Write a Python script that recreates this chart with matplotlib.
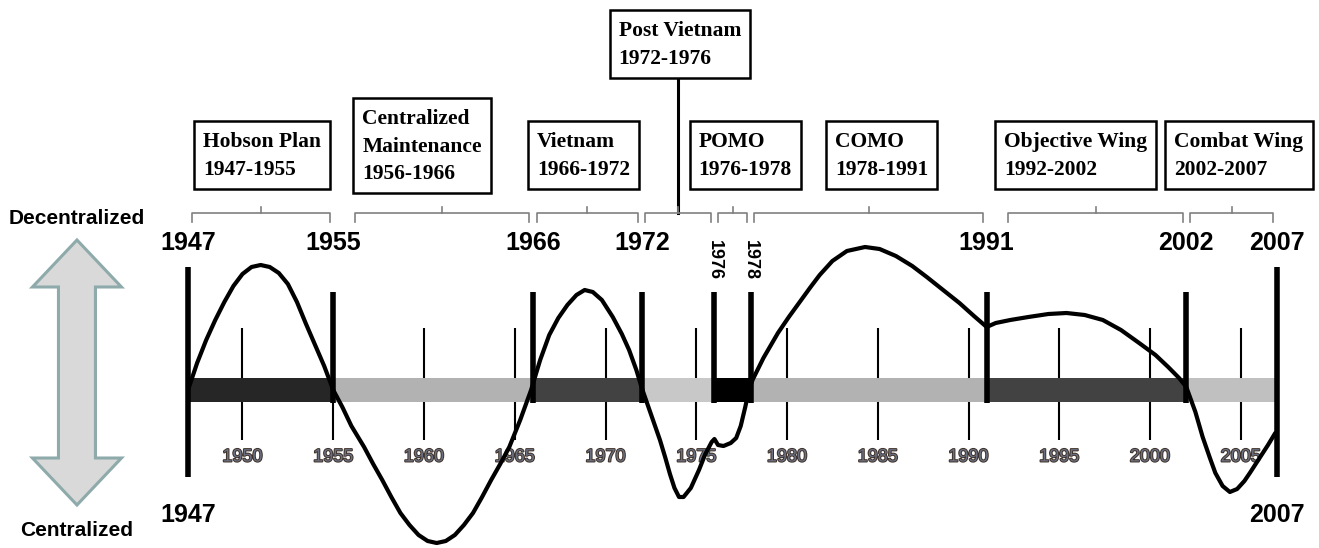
import numpy as np
import matplotlib
matplotlib.use("Agg")
import matplotlib.pyplot as plt
from matplotlib.patches import Polygon, Rectangle
import matplotlib.patheffects as pe

# ---- data ----
# thick markers at the boundaries between organisational eras
boundary_years = [1947, 1955, 1966, 1972, 1976, 1978, 1991, 2002, 2007]
top_label_years = [1947, 1955, 1966, 1972, 1991, 2002, 2007]
side_label_years = [1976, 1978]
bottom_label_years = [1947, 2007]
tick_years = [1950, 1955, 1960, 1965, 1970, 1975, 1980, 1985, 1990, 1995, 2000, 2005]

# shaded time bar segments
segment_starts = [1947, 1955, 1966, 1972, 1976, 1978, 1991, 2002]
segment_ends = [1955, 1966, 1972, 1976, 1978, 1991, 2002, 2007]

# named eras shown in the boxes
era_names = ["Hobson Plan", "Centralized\nMaintenance", "Vietnam", "Post Vietnam",
             "POMO", "COMO", "Objective Wing", "Combat Wing"]
era_starts = [1947, 1956, 1966, 1972, 1976, 1978, 1992, 2002]
era_ends = [1955, 1966, 1972, 1976, 1978, 1991, 2002, 2007]

# centralization curve (positive = decentralized, negative = centralized)
curve_years = [1947.0, 1947.5, 1948.0, 1948.5, 1949.0, 1949.5, 1950.0, 1950.5, 1951.0,
               1951.5, 1952.0, 1952.5, 1953.0, 1953.5, 1954.0, 1954.5, 1955.0,
               1955.5, 1956.0, 1956.7, 1957.2, 1957.7, 1958.2, 1958.7, 1959.2, 1959.7,
               1960.2, 1960.7, 1961.2, 1961.7, 1962.2, 1962.7, 1963.2, 1963.7, 1964.2,
               1964.7, 1965.3, 1965.9,
               1966.4, 1966.9, 1967.4, 1967.9, 1968.4, 1968.85, 1969.3, 1969.8, 1970.4,
               1970.9, 1971.3, 1971.7, 1972.0,
               1972.5, 1973.0, 1973.3, 1973.55, 1973.8, 1974.05, 1974.3, 1974.7, 1975.15,
               1975.5, 1975.85, 1976.0, 1976.2, 1976.5, 1976.9, 1977.2, 1977.45, 1977.7,
               1977.9, 1978.1,
               1978.7, 1979.5, 1980.1, 1980.7, 1981.3, 1981.8, 1982.5, 1983.3, 1984.3,
               1985.1, 1986.0, 1986.9, 1987.7, 1988.6, 1989.5, 1990.3, 1991.0,
               1991.5, 1992.3, 1993.3, 1994.4, 1995.4, 1996.4, 1997.4, 1998.4, 1999.4,
               2000.3, 2001.0, 2001.6, 2002.0,
               2002.5, 2002.9, 2003.3, 2003.6, 2004.0, 2004.4, 2004.8, 2005.2, 2005.5,
               2006.0, 2006.5, 2006.9]
curve_level = [0.00, 0.27, 0.50, 0.70, 0.88, 1.04, 1.16, 1.23, 1.25,
               1.23, 1.17, 1.06, 0.88, 0.66, 0.45, 0.24, 0.00,
               -0.17, -0.36, -0.57, -0.74, -0.90, -1.07, -1.23, -1.35, -1.45,
               -1.51, -1.53, -1.51, -1.45, -1.35, -1.23, -1.07, -0.90, -0.74,
               -0.57, -0.30, 0.00,
               0.30, 0.55, 0.72, 0.85, 0.95, 1.00, 0.98, 0.90, 0.73,
               0.56, 0.40, 0.20, 0.02,
               -0.24, -0.50, -0.68, -0.84, -0.98, -1.07, -1.07, -0.98, -0.80,
               -0.64, -0.52, -0.49, -0.55, -0.56, -0.53, -0.48, -0.36, -0.17,
               0.00, 0.10,
               0.32, 0.57, 0.73, 0.88, 1.03, 1.15, 1.29, 1.39, 1.43,
               1.41, 1.34, 1.24, 1.13, 1.00, 0.87, 0.74, 0.63,
               0.67, 0.70, 0.73, 0.76, 0.77, 0.75, 0.70, 0.60, 0.47,
               0.35, 0.23, 0.12, 0.03,
               -0.22, -0.47, -0.68, -0.83, -0.96, -1.02, -0.99, -0.91, -0.83,
               -0.69, -0.55, -0.43]

# ---- styling / layout ----
segment_colors = ["#262626", "#b2b2b2", "#424242", "#c8c8c8", "#000000",
                  "#b2b2b2", "#424242", "#c0c0c0"]
box_x = [1951.1, 1959.9, 1968.8, 1974.1, 1977.7, 1985.2, 1995.9, 2004.9]
box_y = [2.34, 2.43, 2.34, 3.45, 2.34, 2.34, 2.34, 2.34]

serif = "Liberation Serif"
sans = "Liberation Sans"

fig = plt.figure(figsize=(13.19, 5.48), dpi=100)
ax = fig.add_axes([0, 0, 1, 1])
ax.set_xlim(1936.64, 2009.31)
ax.set_ylim(-1.58, 3.90)
ax.axis("off")

# thin year ticks behind the bar
ax.vlines(tick_years, -0.50, 0.62, color="black", lw=1.5, zorder=1)
for yr in tick_years:
    ax.text(yr, -0.67, str(yr), ha="center", va="center", fontsize=13,
            family=sans, color="#6a7080",
            path_effects=[pe.withStroke(linewidth=1.4, foreground="#3e3028")])

# time bar
for s, e, c in zip(segment_starts, segment_ends, segment_colors):
    ax.barh(0, e - s, left=s, height=0.24, color=c, zorder=2)

# thick boundary markers
for yr in boundary_years:
    if yr in (1947, 2007):
        ax.vlines(yr, -0.87, 1.23, color="black", lw=4, zorder=3)
    else:
        ax.vlines(yr, -0.13, 0.98, color="black", lw=4, zorder=3)

# the centralization curve
ax.plot(curve_years, curve_level, color="black", lw=3, zorder=4,
        solid_joinstyle="round", solid_capstyle="round")

# boundary year labels
for yr in top_label_years:
    ax.text(yr, 1.47, str(yr), ha="center", va="center", fontsize=18,
            family=sans, weight="bold")
for yr in side_label_years:
    ax.text(yr, 1.30, str(yr), ha="center", va="center", fontsize=13,
            family=sans, weight="bold", rotation=270)
for yr in bottom_label_years:
    ax.text(yr, -1.25, str(yr), ha="center", va="center", fontsize=18,
            family=sans, weight="bold")

# brackets under each era box
for s, e in zip(era_starts, era_ends):
    s2, e2 = s + 0.2, e - 0.2
    m = (s + e) / 2
    ax.plot([s2, s2, e2, e2], [1.68, 1.77, 1.77, 1.68], color="#808080", lw=1.2)
    ax.plot([m, m], [1.77, 1.83], color="#808080", lw=1.2)

# stem for the raised Post Vietnam box
pv = era_names.index("Post Vietnam")
ax.plot([(era_starts[pv] + era_ends[pv]) / 2] * 2, [1.77, 3.2], color="black", lw=2.2, zorder=1)

# era boxes: text first, then a frame sized from the text extent
box_texts = []
for name, s, e, bx, by in zip(era_names, era_starts, era_ends, box_x, box_y):
    t = ax.text(bx, by, f"{name}\n{s}-{e}", ha="center", va="center", multialignment="left",
                fontsize=15.5, family=serif, weight="bold", linespacing=1.5, zorder=6)
    box_texts.append(t)

fig.canvas.draw()
renderer = fig.canvas.get_renderer()
inv = ax.transData.inverted()
for t in box_texts:
    bb = t.get_window_extent(renderer)
    (x0, y0), (x1, y1) = inv.transform([(bb.x0 - 9, bb.y0 - 9), (bb.x1 + 9, bb.y1 + 11)])
    ax.add_patch(Rectangle((x0, y0), x1 - x0, y1 - y0, fc="white", ec="black",
                           lw=1.8, zorder=5))

# double arrow on the left
px_year = 18.15   # pixels per year
xc, top, bot = 1940.88, 1.50, -1.15
sw, hw, hl = 18.5 / px_year, 44.5 / px_year, 0.47
verts = [(xc, top), (xc + hw, top - hl), (xc + sw, top - hl), (xc + sw, bot + hl),
         (xc + hw, bot + hl), (xc, bot), (xc - hw, bot + hl), (xc - sw, bot + hl),
         (xc - sw, top - hl), (xc - hw, top - hl)]
ax.add_patch(Polygon(verts, closed=True, fc="#d9d9d9", ec="#8eaaaa", lw=2.2))
ax.text(xc, 1.72, "Decentralized", ha="center", va="center", fontsize=15,
        family=sans, weight="bold")
ax.text(xc, -1.40, "Centralized", ha="center", va="center", fontsize=15,
        family=sans, weight="bold")

fig.savefig("out.png", dpi=100)
